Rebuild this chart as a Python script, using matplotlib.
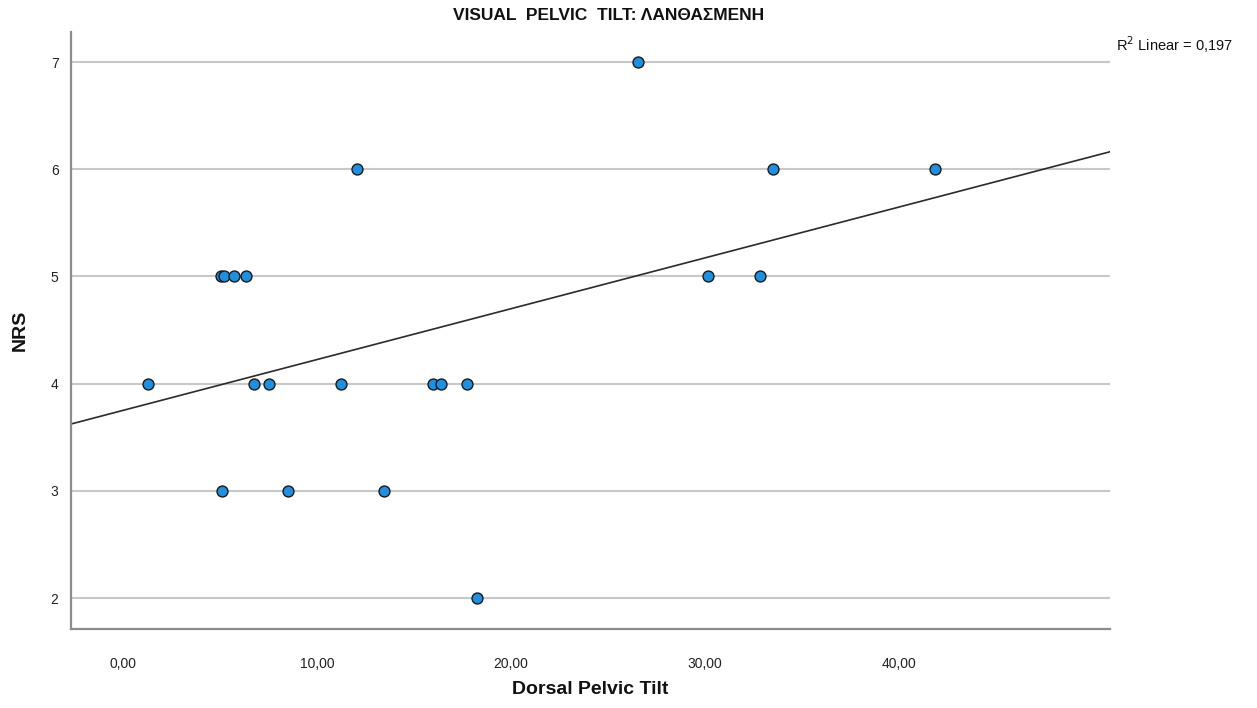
import matplotlib
matplotlib.use("Agg")
import matplotlib.pyplot as plt
import numpy as np

plt.rcParams["font.family"] = ["Liberation Sans", "DejaVu Sans"]

# Dorsal Pelvic Tilt (x) vs NRS (y)
tilt = [26.55, 12.06, 33.51, 41.86,
        5.04, 5.22, 5.74, 6.32, 30.15, 32.84,
        1.27, 6.77, 7.53, 11.24, 15.99, 16.38, 17.72,
        5.10, 8.51, 13.45,
        18.25]
nrs = [7, 6, 6, 6,
       5, 5, 5, 5, 5, 5,
       4, 4, 4, 4, 4, 4, 4,
       3, 3, 3,
       2]

x_ticks = [0, 10, 20, 30, 40]
x_tick_labels = ["0,00", "10,00", "20,00", "30,00", "40,00"]
y_ticks = [2, 3, 4, 5, 6, 7]
y_tick_labels = ["2", "3", "4", "5", "6", "7"]

TITLE = "VISUAL  PELVIC  TILT: ΛΑΝΘΑΣΜΕΝΗ"
R2_TEXT = "R$^2$ Linear = 0,197"

fig = plt.figure(figsize=(12.57, 7.08), dpi=100)
ax = fig.add_axes([71 / 1257, 1 - 629 / 708, (1110 - 71) / 1257, (629 - 32) / 708])

xlim = (-2.68, 50.88)
ylim = (1.711, 7.28)

# horizontal gridlines at each y tick
for y in y_ticks:
    ax.axhline(y, color="#c8c8c8", linewidth=1.5, zorder=1)

# linear fit line across the whole x range
slope, intercept = np.polyfit(tilt, nrs, 1)
xs = np.array(xlim)
ax.plot(xs, intercept + slope * xs, color="#2b2b2b", linewidth=1.2, zorder=2)

ax.scatter(tilt, nrs, s=62, color="#1f8fde", edgecolors="#1a1a1a",
           linewidths=1.0, zorder=3)

ax.set_xlim(*xlim)
ax.set_ylim(*ylim)
ax.set_xticks(x_ticks)
ax.set_xticklabels(x_tick_labels, fontsize=10, color="#222222")
ax.set_yticks(y_ticks)
ax.set_yticklabels(y_tick_labels, fontsize=10, color="#222222")
ax.tick_params(axis="x", length=0, pad=20)
ax.tick_params(axis="y", length=0, pad=9)

for side in ("top", "right"):
    ax.spines[side].set_visible(False)
for side in ("left", "bottom"):
    ax.spines[side].set_color("#8c8c8c")
    ax.spines[side].set_linewidth(1.6)

fig.text(609 / 1257, 1 - 15 / 708, TITLE, ha="center", va="center",
         fontsize=12.5, fontweight="bold", color="#111111")
fig.text(20 / 1257, 1 - 330 / 708, "NRS", ha="center", va="center",
         rotation=90, fontsize=14, fontweight="bold", color="#111111")
fig.text(590 / 1257, 1 - 690 / 708, "Dorsal Pelvic Tilt", ha="center",
         va="center", fontsize=14, fontweight="bold", color="#111111")
fig.text(1116 / 1257, 1 - 45 / 708, R2_TEXT, ha="left", va="center",
         fontsize=10.5, color="#111111")

fig.savefig("out.png", dpi=100, facecolor="white")
